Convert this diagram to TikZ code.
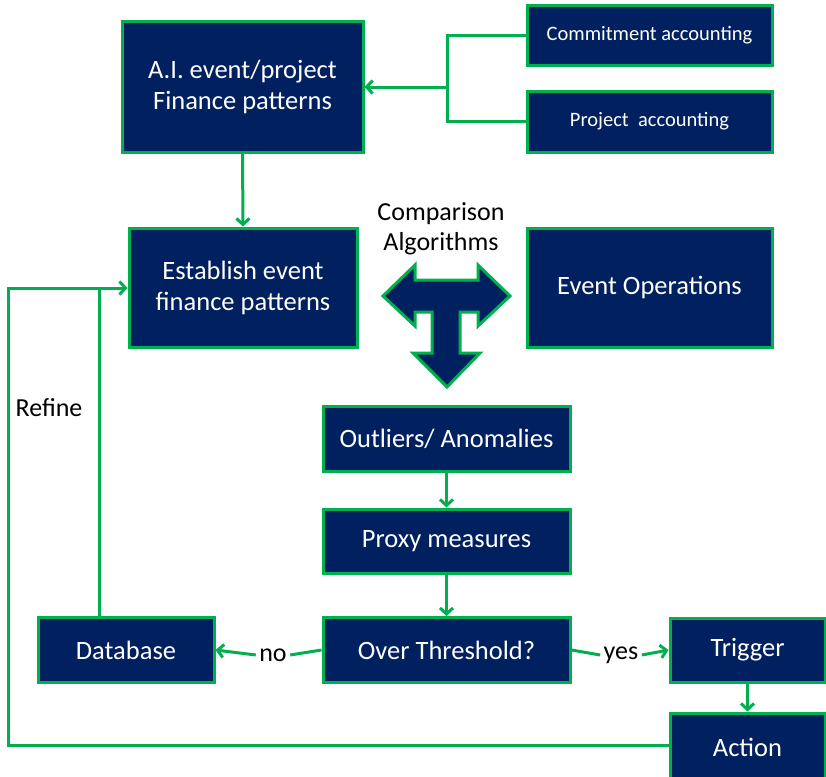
\documentclass[tikz,border=0pt]{standalone}
\usepackage{fontspec}
\setmainfont{Carlito}
\usetikzlibrary{arrows.meta}
\definecolor{navy}{HTML}{002060}
\definecolor{grn}{HTML}{00B050}
\begin{document}
\begin{tikzpicture}[x=1pt,y=-1pt,
  box/.style={draw=grn,fill=navy,line width=3pt,text=white,align=center,inner sep=0pt},
  conn/.style={draw=grn,line width=3pt},
  arr/.style={conn,-{Straight Barb[length=6pt,width=13pt,line width=3pt]}},
  big/.style={font=\fontsize{26.5}{31}\selectfont},
  lbl/.style={text=black,font=\fontsize{26}{30}\selectfont}]
\useasboundingbox (0,0) rectangle (826,776);
\clip (0,0) rectangle (826,776);
% boxes
\node[box,big,minimum width=241pt,minimum height=130pt] (ai) at (242.5,87) {A.I. event/project\\Finance patterns};
\node[box,minimum width=245pt,minimum height=59pt,font=\fontsize{20.5}{24}\selectfont] (com) at (649.5,35.5) {Commitment accounting};
\node[box,minimum width=245pt,minimum height=61pt,font=\fontsize{20.5}{24}\selectfont] (proj) at (649.5,121.5) {Project\ \ accounting};
\node[box,big,minimum width=228pt,minimum height=119pt] (est) at (243,287.5) {Establish event\\finance patterns};
\node[box,big,minimum width=245pt,minimum height=119pt] (ops) at (649.5,287.5) {Event Operations};
\node[box,big,minimum width=247pt,minimum height=65pt] (out) at (446.5,438.5) {Outliers/ Anomalies};
\node[box,big,minimum width=247pt,minimum height=64pt] (prox) at (446.5,541) {Proxy measures};
\node[box,big,minimum width=247pt,minimum height=65pt] (thr) at (446.5,650) {Over Threshold?};
\node[box,big,minimum width=176pt,minimum height=65pt] (db) at (126,650) {Database};
\node[box,big,minimum width=155pt,minimum height=64pt] (trig) at (747.5,650) {Trigger};
\node[box,big,minimum width=155pt,minimum height=72pt] (act) at (747.5,749) {\raisebox{4pt}{Action}};
% labels
\node[lbl,align=center] (cmp) at (441,229) {Comparison\\Algorithms};
\node[lbl] (refine) at (49,408) {Refine};
\node[lbl] (no) at (273,655) {no};
\node[lbl] (yes) at (621,655) {yes};
% T arrow
\draw[draw=grn,fill=navy,line width=3pt,line join=miter] (383,296) -- (415,265) -- (415,280) -- (478,280) -- (478,265) -- (510,296) -- (478,326) -- (478,312) -- (460,312) -- (460,353) -- (480,353) -- (447,387) -- (413,353) -- (432,353) -- (432,312) -- (415,312) -- (415,326) -- cycle;
% connectors
\coordinate (j1) at (447,35.5);
\coordinate (j2) at (447,121.5);
\draw[conn] (com.west) -- (j1) -- (j2) -- (proj.west);
\draw[arr] (j1 |- ai.east) -- (ai.east);
\draw[arr] (ai.south) -- (est.north);
\draw[arr] (out.south) -- (prox.north);
\draw[arr] (prox.south) -- (thr.north);
\draw[conn] (thr.west) -- (no.east);
\draw[arr] (no.west) -- (db.east);
\draw[conn] (thr.east) -- (yes.west);
\draw[arr] (yes.east) -- (trig.west);
\draw[arr] (trig.south) -- (act.north);
\coordinate (lb) at (8,745);
\coordinate (lt) at (8,288);
\coordinate (dj) at (99,288);
\draw[conn] (act.west |- lb) -- (lb) -- (lt) -- (dj);
\draw[arr] (dj) -- (est.west |- dj);
\draw[conn] (db.north -| dj) -- (dj);
\end{tikzpicture}
\end{document}
